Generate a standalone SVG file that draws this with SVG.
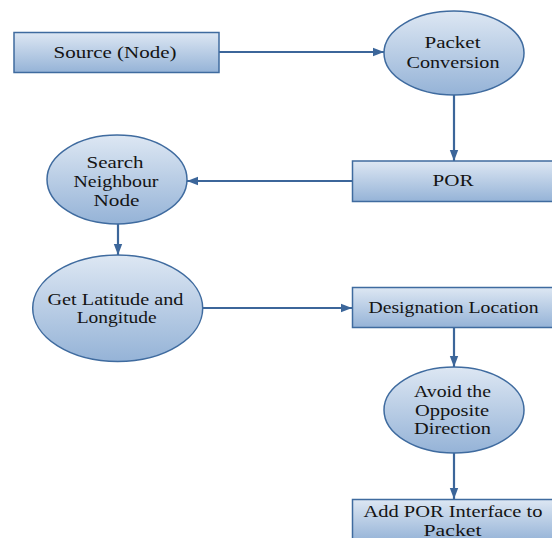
<svg xmlns="http://www.w3.org/2000/svg" width="552" height="538" viewBox="0 0 552 538">
  <defs>
    <linearGradient id="fillGrad" x1="0" y1="0" x2="0" y2="1">
      <stop offset="0" stop-color="#dde7f3"/>
      <stop offset="1" stop-color="#95b3d7"/>
    </linearGradient>
    <marker id="arrow" markerUnits="userSpaceOnUse" markerWidth="12" markerHeight="10" refX="11" refY="5" orient="auto">
      <path d="M0,0.8 L11,5 L0,9.2 Z" fill="#3c669a"/>
    </marker>
    <style>
      .box { fill: url(#fillGrad); stroke: #3f6b9f; stroke-width: 1.5; }
      .oval { fill: url(#fillGrad); stroke: #3f6b9f; stroke-width: 1.5; }
      .lbl { font-family: "Liberation Serif", "Times New Roman", serif; font-size: 17px; fill: #141414; text-anchor: middle; }
      .edge { stroke: #3c669a; stroke-width: 2.2; fill: none; marker-end: url(#arrow); }
    </style>
  </defs>

  <g id="connectors">
    <line class="edge" x1="219" y1="52" x2="384" y2="52"/>
    <line class="edge" x1="454" y1="95" x2="454" y2="161"/>
    <line class="edge" x1="352" y1="181" x2="187" y2="181"/>
    <line class="edge" x1="118" y1="224" x2="118" y2="255"/>
    <line class="edge" x1="203" y1="308" x2="352" y2="308"/>
    <line class="edge" x1="454" y1="328" x2="454" y2="367"/>
    <line class="edge" x1="454" y1="453" x2="454" y2="499"/>
  </g>

  <g id="source">
    <rect class="box" x="14" y="32.5" width="205" height="40"/>
    <text class="lbl" x="115" y="57.5" textLength="123" lengthAdjust="spacingAndGlyphs">Source (Node)</text>
  </g>

  <g id="packet-conversion">
    <ellipse class="oval" cx="454" cy="53" rx="70" ry="42"/>
    <text class="lbl" x="452.5" y="48" textLength="56" lengthAdjust="spacingAndGlyphs">Packet</text>
    <text class="lbl" x="453" y="68" textLength="93" lengthAdjust="spacingAndGlyphs">Conversion</text>
  </g>

  <g id="por">
    <rect class="box" x="352.5" y="161" width="210" height="40.5"/>
    <text class="lbl" x="453" y="186" textLength="41" lengthAdjust="spacingAndGlyphs">POR</text>
  </g>

  <g id="search-neighbour">
    <ellipse class="oval" cx="117" cy="179.5" rx="70" ry="44.5"/>
    <text class="lbl" x="115" y="168" textLength="57" lengthAdjust="spacingAndGlyphs">Search</text>
    <text class="lbl" x="116" y="187" textLength="85" lengthAdjust="spacingAndGlyphs">Neighbour</text>
    <text class="lbl" x="116.5" y="206" textLength="46" lengthAdjust="spacingAndGlyphs">Node</text>
  </g>

  <g id="latitude-longitude">
    <ellipse class="oval" cx="117.7" cy="308.3" rx="85" ry="53.3"/>
    <text class="lbl" x="115.5" y="304.5" textLength="136" lengthAdjust="spacingAndGlyphs">Get Latitude and</text>
    <text class="lbl" x="116.7" y="322.5" textLength="80" lengthAdjust="spacingAndGlyphs">Longitude</text>
  </g>

  <g id="designation-location">
    <rect class="box" x="352.5" y="287.5" width="210" height="40"/>
    <text class="lbl" x="453.5" y="312.5" textLength="170" lengthAdjust="spacingAndGlyphs">Designation Location</text>
  </g>

  <g id="avoid-opposite">
    <ellipse class="oval" cx="454" cy="410" rx="70" ry="43"/>
    <text class="lbl" x="452.5" y="397" textLength="77" lengthAdjust="spacingAndGlyphs">Avoid the</text>
    <text class="lbl" x="452" y="415.5" textLength="74" lengthAdjust="spacingAndGlyphs">Opposite</text>
    <text class="lbl" x="452.5" y="434" textLength="77" lengthAdjust="spacingAndGlyphs">Direction</text>
  </g>

  <g id="add-por-interface">
    <rect class="box" x="352.5" y="499.5" width="210" height="42"/>
    <text class="lbl" x="453" y="517" textLength="179" lengthAdjust="spacingAndGlyphs">Add POR Interface to</text>
    <text class="lbl" x="452.5" y="535.5" textLength="58" lengthAdjust="spacingAndGlyphs">Packet</text>
  </g>
</svg>
